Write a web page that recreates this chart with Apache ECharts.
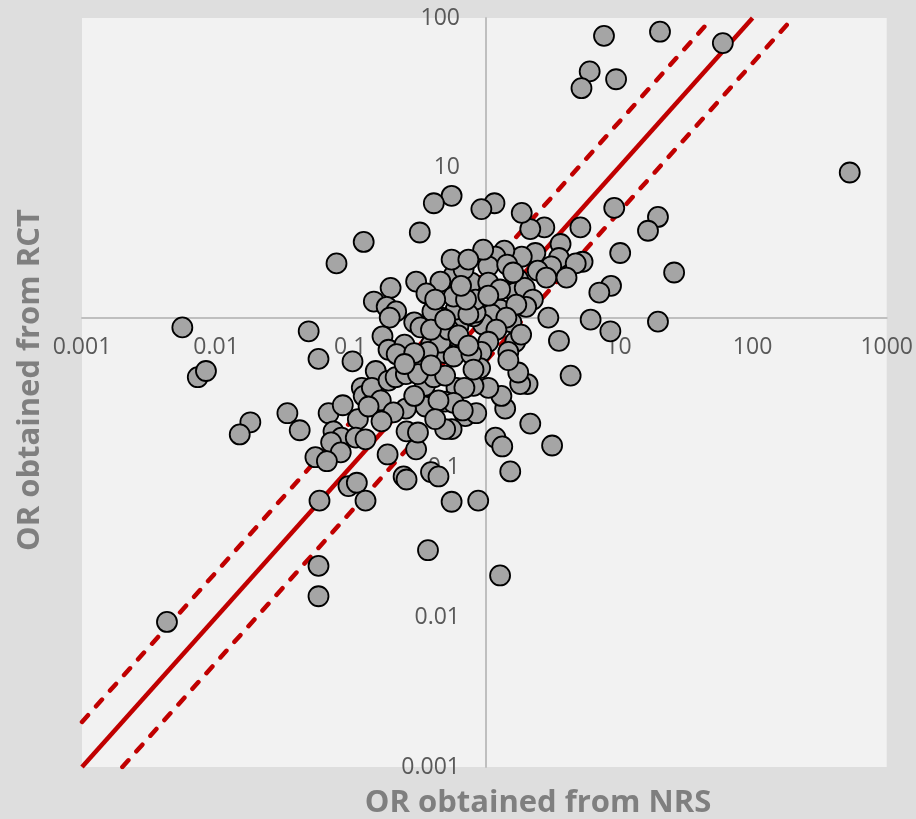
<!DOCTYPE html>
<html>
<head>
<meta charset="utf-8">
<script src="https://cdn.jsdelivr.net/npm/echarts@6/dist/echarts.min.js"></script>
<style>
  html, body { margin: 0; padding: 0; background: #dedede; }
  #chart { width: 916px; height: 819px; }
</style>
</head>
<body>
<div id="chart"></div>
<script>
// OR from non-randomised studies (x) vs OR from RCTs (y)
var nrsOR = [
  7.8, 20.4, 60, 6.1, 5.3, 9.6, 530, 9.3, 19.7, 16.6, 10.3, 26, 8.8, 7.2, 6.2, 19.7, 8.7, 3.6, 4.4, 3.0,
  5.2, 3.7, 2.8, 2.2, 1.9, 1.19, 0.95, 2.4, 1.9, 1.41, 1.21, 1.07, 1.48, 3.6, 5.4, 4.8, 3.15, 2.5, 2.9, 4.1,
  1.79, 1.7, 2.0, 2.3, 2.05, 1.59, 1.27, 1.31, 1.13, 1.73, 1.46, 1.7, 1.88, 0.98, 0.83, 0.64, 0.61, 0.86, 1.23, 1.07,
  1.51, 0.95, 0.57, 0.51, 0.80, 0.59, 0.86, 0.70, 0.57, 0.57, 0.42, 0.33, 0.126, 0.079, 0.47, 0.31, 0.37, 0.59, 0.20, 0.15,
  0.187, 0.22, 0.197, 0.174, 0.193, 0.254, 0.30, 0.334, 0.40, 0.47, 0.48, 0.41, 0.54, 0.049, 0.0056, 0.058, 0.104, 0.0073, 0.0084, 0.034,
  0.042, 0.018, 0.015, 0.069, 0.088, 0.114, 0.122, 0.126, 0.075, 0.086, 0.072, 0.085, 0.055, 0.067, 0.110, 0.130, 0.097, 0.112, 0.059, 0.130,
  0.19, 0.31, 0.25, 0.263, 0.40, 0.455, 0.57, 0.90, 0.38, 0.058, 0.058, 1.31, 1.56, 1.21, 1.36, 3.2, 2.2, 1.43, 1.34, 2.1,
  1.85, 1.79, 1.51, 0.72, 0.87, 0.57, 1.07, 0.83, 0.62, 0.51, 0.93, 0.59, 0.80, 0.155, 0.145, 0.193, 0.169, 0.137, 0.218, 0.26,
  0.222, 0.30, 0.36, 0.42, 0.364, 0.26, 0.21, 0.171, 0.263, 0.32, 0.51, 0.40, 0.51, 0.76, 0.64, 0.38, 0.30, 0.32, 0.51, 0.76,
  0.71, 0.59, 0.455, 0.30, 0.43, 0.69, 0.83, 0.73, 0.43, 0.67, 1.07, 1.31, 1.07, 0.98, 0.76, 1.64, 0.254, 0.40, 0.0043
];
var rctOR = [
  76, 81, 68, 44, 34, 39, 9.3, 5.4, 4.7, 3.8, 2.7, 2.0, 1.63, 1.47, 0.97, 0.94, 0.81, 0.70, 0.41, 1.0,
  4.0, 3.1, 4.0, 3.9, 5.0, 5.8, 5.3, 2.7, 2.55, 2.8, 2.55, 2.2, 2.26, 2.5, 2.36, 2.3, 2.2, 2.06, 1.85, 1.85,
  1.79, 1.47, 1.58, 1.32, 1.18, 0.93, 1.02, 1.13, 1.05, 1.22, 1.0, 0.69, 0.77, 0.90, 1.02, 0.87, 1.13, 1.08, 0.83, 0.69,
  0.59, 0.59, 0.68, 0.58, 1.71, 1.91, 1.32, 2.1, 2.44, 6.5, 5.8, 3.7, 3.2, 2.3, 1.74, 1.74, 1.45, 1.38, 1.58, 1.28,
  1.18, 1.10, 1.0, 0.75, 0.61, 0.66, 0.93, 0.86, 0.66, 0.68, 1.0, 1.10, 0.83, 0.81, 0.86, 0.53, 0.51, 0.40, 0.44, 0.23,
  0.177, 0.20, 0.166, 0.23, 0.26, 0.21, 0.34, 0.30, 0.174, 0.158, 0.147, 0.126, 0.117, 0.110, 0.158, 0.154, 0.075, 0.079, 0.060, 0.060,
  0.122, 0.132, 0.087, 0.083, 0.093, 0.087, 0.059, 0.060, 0.028, 0.022, 0.0138, 0.019, 0.094, 0.158, 0.138, 0.140, 0.196, 0.247, 0.30, 0.36,
  0.36, 0.43, 0.52, 0.22, 0.23, 0.18, 0.34, 0.35, 0.34, 0.275, 0.46, 0.55, 0.57, 0.44, 0.34, 0.38, 0.28, 0.255, 0.40, 0.42,
  0.57, 0.49, 0.35, 0.40, 0.255, 0.247, 0.233, 0.203, 0.174, 0.171, 0.18, 0.83, 0.97, 1.05, 0.76, 0.59, 0.58, 0.42, 0.41, 0.65,
  0.34, 0.27, 0.28, 0.30, 0.21, 0.24, 0.45, 1.32, 1.32, 1.63, 1.71, 1.54, 1.40, 2.84, 2.44, 2.0, 0.49, 0.48, 0.0093
];

// reference lines: identity, twofold above, twofold below
var equalLine = [[0.001, 0.001], [100, 100]];
var upperLine = [[0.001, 0.002], [50, 100]];
var lowerLine = [[0.002, 0.001], [200, 100]];

var xTickLabels = ['0.001', '0.01', '0.1', '1', '10', '100', '1000'];
var yTickLabels = ['0.001', '0.01', '0.1', '1', '10', '100'];

var points = [];
for (var i = 0; i < nrsOR.length; i++) {
  points.push([nrsOR[i], rctOR[i]]);
}

var labelFont = {
  color: '#595959',
  fontFamily: 'Open Sans',
  fontSize: 23
};

var myChart = echarts.init(document.getElementById('chart'));
var option = {
  backgroundColor: '#dedede',
  animation: false,
  grid: {
    left: 82,
    right: 27,
    top: 18,
    bottom: 52,
    show: true,
    backgroundColor: '#f2f2f2',
    borderWidth: 0
  },
  xAxis: {
    type: 'log',
    logBase: 10,
    min: 0.001,
    max: 1000,
    position: 'bottom',
    offset: -449,
    axisLine: { show: true, lineStyle: { color: '#bfbfbf', width: 2 } },
    axisTick: { show: false },
    splitLine: { show: false },
    axisLabel: {
      margin: 18,
      color: labelFont.color,
      fontFamily: labelFont.fontFamily,
      fontSize: labelFont.fontSize,
      showMinLabel: true,
      showMaxLabel: true,
      formatter: function (v) {
        return xTickLabels[Math.round(Math.log10(v)) + 3];
      }
    }
  },
  yAxis: {
    type: 'log',
    logBase: 10,
    min: 0.001,
    max: 100,
    position: 'left',
    offset: -404,
    axisLine: { show: true, lineStyle: { color: '#bfbfbf', width: 2 } },
    axisTick: { show: false },
    splitLine: { show: false },
    axisLabel: {
      margin: 26,
      color: labelFont.color,
      fontFamily: labelFont.fontFamily,
      fontSize: labelFont.fontSize,
      showMinLabel: true,
      showMaxLabel: true,
      formatter: function (v) {
        return yTickLabels[Math.round(Math.log10(v)) + 3];
      }
    }
  },
  graphic: [{
    type: 'text',
    x: 538,
    y: 803,
    style: {
      text: 'OR obtained from NRS',
      fill: '#7f7f7f',
      font: 'bold 31px "Open Sans"',
      textAlign: 'center',
      textVerticalAlign: 'middle'
    }
  }, {
    type: 'text',
    x: 30,
    y: 380,
    rotation: Math.PI / 2,
    style: {
      text: 'OR obtained from RCT',
      fill: '#7f7f7f',
      font: 'bold 31px "Open Sans"',
      textAlign: 'center',
      textVerticalAlign: 'middle'
    }
  }],
  series: [{
    type: 'line',
    data: equalLine,
    symbol: 'none',
    z: 2,
    clip: true,
    lineStyle: { color: '#c00000', width: 4.5 }
  }, {
    type: 'line',
    data: upperLine,
    symbol: 'none',
    z: 2,
    clip: true,
    lineStyle: { color: '#c00000', width: 4.5, type: [9, 12], cap: 'round' }
  }, {
    type: 'line',
    data: lowerLine,
    symbol: 'none',
    z: 2,
    clip: true,
    lineStyle: { color: '#c00000', width: 4.5, type: [9, 12], cap: 'round' }
  }, {
    type: 'scatter',
    data: points,
    symbol: 'circle',
    symbolSize: 20,
    z: 3,
    itemStyle: {
      color: '#a5a5a5',
      borderColor: '#000000',
      borderWidth: 1.8,
      opacity: 1
    }
  }]
};
myChart.setOption(option);
</script>
</body>
</html>
